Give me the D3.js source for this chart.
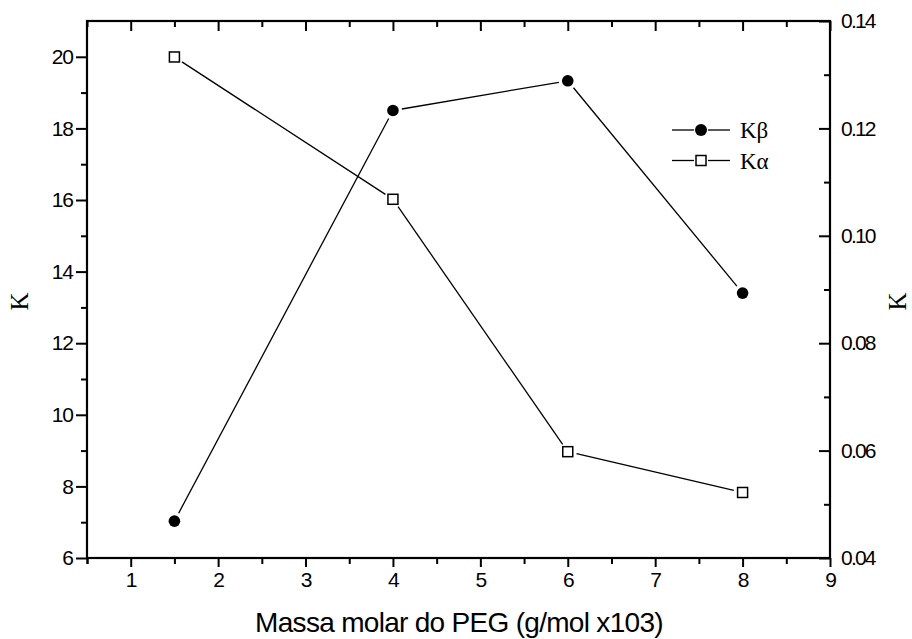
<!DOCTYPE html>
<html>
<head>
<meta charset="utf-8">
<script src="https://cdn.jsdelivr.net/npm/d3@7"></script>
<style>
  html, body { margin: 0; padding: 0; background: #fff; }
  svg { display: block; }
</style>
</head>
<body>
<svg id="chart" width="912" height="639"></svg>
<script>
// ---- data ----
const massX = [1.5, 4, 6, 8];
const kBeta = [7.03, 18.5, 19.33, 13.4];          // left axis
const kAlpha = [0.1333, 0.1068, 0.0598, 0.0522];  // right axis
const xTicks = [1, 2, 3, 4, 5, 6, 7, 8, 9];
const yLeftTicks = [6, 8, 10, 12, 14, 16, 18, 20];
const yRightTicks = [0.04, 0.06, 0.08, 0.10, 0.12, 0.14];
const xTitle = "Massa molar do PEG (g/mol x103)";
const yTitle = "K";
const legendLabels = ["Kβ", "Kα"];

// ---- layout ----
const svg = d3.select("#chart");
const L = 87, R = 830, T = 21, B = 558;

const x = d3.scaleLinear().domain([0.5, 9]).range([L, R]);
const yL = d3.scaleLinear().domain([6, 21]).range([B, T]);
const yR = d3.scaleLinear().domain([0.04, 0.14]).range([B, T]);

const sansFont = "Liberation Sans, Arial, sans-serif";
const serifFont = "Liberation Serif, Times New Roman, serif";

// minor tick arrays
const xMinor = d3.range(0.5, 9.01, 0.5).filter(v => Math.abs(v - Math.round(v)) > 1e-6);
const yLMinor = d3.range(7, 21, 2);
const yRMinor = [0.05, 0.07, 0.09, 0.11, 0.13];

function styleAxis(g) {
  g.select(".domain").remove();
  g.selectAll(".tick line").attr("stroke", "#000").attr("stroke-width", 2);
  g.selectAll(".tick text").attr("font-family", sansFont).attr("font-size", 21)
    .attr("letter-spacing", -1).attr("fill", "#000");
}

// bottom axis
svg.append("g").attr("transform", `translate(0,${B})`)
  .call(d3.axisBottom(x).tickValues(xTicks).tickFormat(d3.format("d")).tickSize(9).tickPadding(5))
  .call(styleAxis);
svg.append("g").attr("transform", `translate(0,${B})`)
  .call(d3.axisBottom(x).tickValues([0.5].concat(xMinor)).tickFormat("").tickSize(6))
  .call(styleAxis);

// top axis (inward ticks)
svg.append("g").attr("transform", `translate(0,${T})`)
  .call(d3.axisBottom(x).tickValues(xTicks).tickFormat("").tickSize(10))
  .call(styleAxis);
svg.append("g").attr("transform", `translate(0,${T})`)
  .call(d3.axisBottom(x).tickValues(xMinor).tickFormat("").tickSize(6))
  .call(styleAxis);

// left axis
svg.append("g").attr("transform", `translate(${L},0)`)
  .call(d3.axisLeft(yL).tickValues(yLeftTicks).tickFormat(d3.format("d")).tickSize(11).tickPadding(3))
  .call(styleAxis);
svg.append("g").attr("transform", `translate(${L},0)`)
  .call(d3.axisLeft(yL).tickValues(yLMinor).tickFormat("").tickSize(6))
  .call(styleAxis);

// right axis (inward ticks, labels outside)
const rightAx = svg.append("g").attr("transform", `translate(${R},0)`)
  .call(d3.axisLeft(yR).tickValues(yRightTicks).tickFormat(d3.format(".2f")).tickSize(11))
  .call(styleAxis);
rightAx.selectAll(".tick text")
  .attr("x", 11).attr("text-anchor", "start").attr("letter-spacing", -1.8);
svg.append("g").attr("transform", `translate(${R},0)`)
  .call(d3.axisLeft(yR).tickValues(yRMinor).tickFormat("").tickSize(6))
  .call(styleAxis);

// frame
svg.append("rect").attr("x", L).attr("y", T).attr("width", R - L).attr("height", B - T)
  .attr("fill", "none").attr("stroke", "#000").attr("stroke-width", 2.2);

// titles
svg.append("text").attr("x", 459).attr("y", 632).attr("text-anchor", "middle")
  .attr("font-family", sansFont).attr("font-size", 28).attr("letter-spacing", -0.7)
  .text(xTitle);
svg.append("text").attr("transform", `translate(28,${(T + B) / 2 + 12}) rotate(-90)`)
  .attr("text-anchor", "middle").attr("font-family", serifFont).attr("font-size", 25).text(yTitle);
svg.append("text").attr("transform", `translate(906,${(T + B) / 2 + 12}) rotate(-90)`)
  .attr("text-anchor", "middle").attr("font-family", serifFont).attr("font-size", 25).text(yTitle);

// gapped line segments (Origin style)
function gappedSegments(pts, gap) {
  const segs = [];
  for (let i = 0; i < pts.length - 1; i++) {
    const [x1, y1] = pts[i], [x2, y2] = pts[i + 1];
    const dx = x2 - x1, dy = y2 - y1, len = Math.hypot(dx, dy);
    const ux = dx / len, uy = dy / len;
    segs.push([x1 + ux * gap, y1 + uy * gap, x2 - ux * gap, y2 - uy * gap]);
  }
  return segs;
}

const betaPts = massX.map((d, i) => [x(d), yL(kBeta[i])]);
const alphaPts = massX.map((d, i) => [x(d), yR(kAlpha[i])]);

[betaPts, alphaPts].forEach(pts => {
  svg.append("g").selectAll("line").data(gappedSegments(pts, 9)).join("line")
    .attr("x1", d => d[0]).attr("y1", d => d[1]).attr("x2", d => d[2]).attr("y2", d => d[3])
    .attr("stroke", "#000").attr("stroke-width", 1.3);
});

svg.append("g").selectAll("circle").data(betaPts).join("circle")
  .attr("cx", d => d[0]).attr("cy", d => d[1]).attr("r", 5.8).attr("fill", "#000");

svg.append("g").selectAll("rect").data(alphaPts).join("rect")
  .attr("x", d => d[0] - 5).attr("y", d => d[1] - 5).attr("width", 10).attr("height", 10)
  .attr("fill", "#fff").attr("stroke", "#000").attr("stroke-width", 1.5);

// legend
const lg = svg.append("g").attr("transform", "translate(672,130)");
legendLabels.forEach((lab, i) => {
  const yy = i * 30.5;
  lg.append("line").attr("x1", 0).attr("x2", 22).attr("y1", yy).attr("y2", yy).attr("stroke", "#000").attr("stroke-width", 1.3);
  lg.append("line").attr("x1", 36).attr("x2", 58).attr("y1", yy).attr("y2", yy).attr("stroke", "#000").attr("stroke-width", 1.3);
  if (i === 0) {
    lg.append("circle").attr("cx", 29).attr("cy", yy).attr("r", 6).attr("fill", "#000");
  } else {
    lg.append("rect").attr("x", 24).attr("y", yy - 5).attr("width", 10).attr("height", 10)
      .attr("fill", "#fff").attr("stroke", "#000").attr("stroke-width", 1.5);
  }
  lg.append("text").attr("x", 68).attr("y", yy + 8).attr("font-family", serifFont).attr("font-size", 23).text(lab);
});
</script>
</body>
</html>
